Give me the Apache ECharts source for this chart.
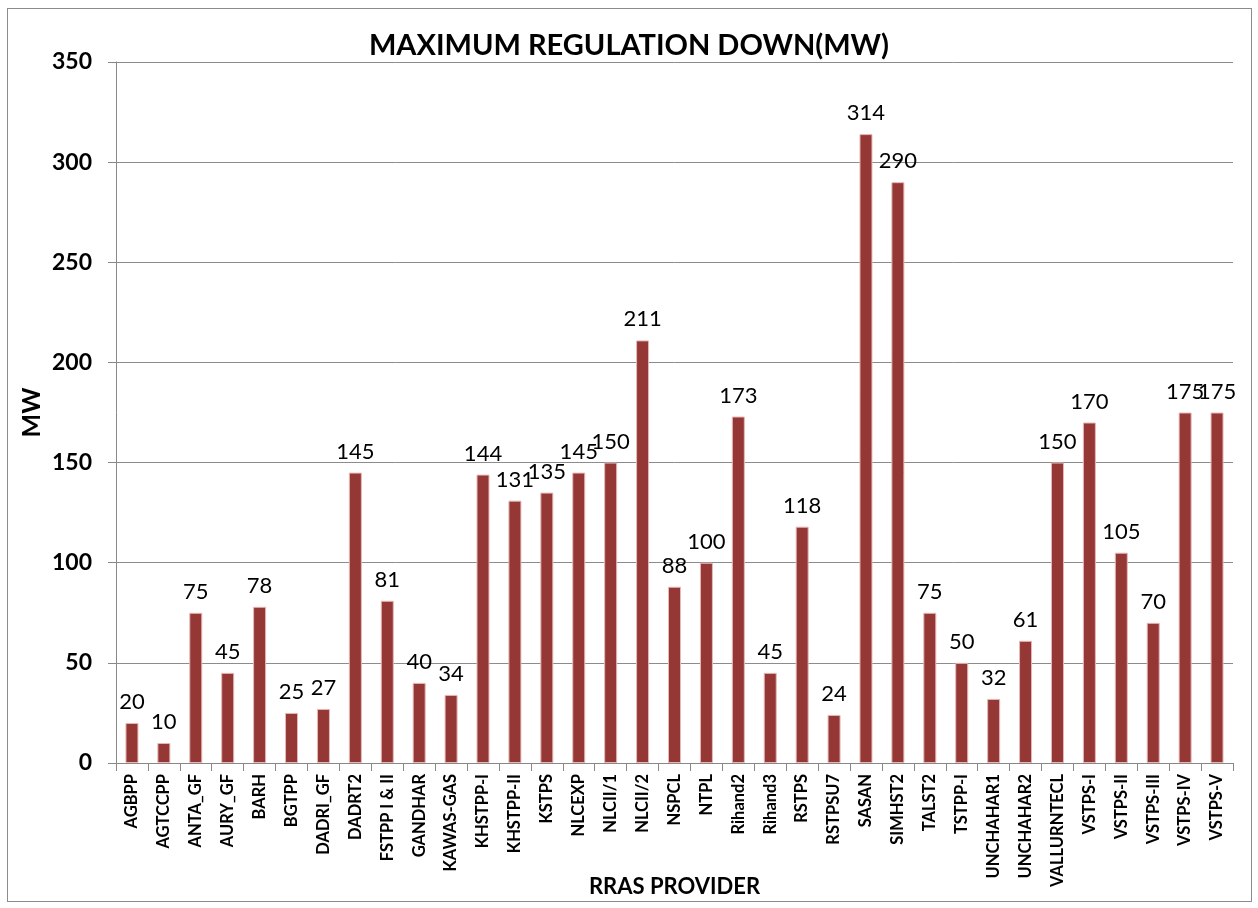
<!DOCTYPE html>
<html><head><meta charset="utf-8">
<script src="https://cdn.jsdelivr.net/npm/echarts@6/dist/echarts.min.js"></script>
<style>html,body{margin:0;padding:0;background:#fff}#c{width:1258px;height:908px}
#frame{position:absolute;left:7px;top:8px;width:1243px;height:892px;border:1px solid #8c8c8c;pointer-events:none}</style>
</head><body><div id="c"></div><div id="frame"></div>
<script>
const categories = ["AGBPP","AGTCCPP","ANTA_GF","AURY_GF","BARH","BGTPP","DADRI_GF","DADRT2","FSTPP I & II","GANDHAR","KAWAS-GAS","KHSTPP-I","KHSTPP-II","KSTPS","NLCEXP","NLCII/1","NLCII/2","NSPCL","NTPL","Rihand2","Rihand3","RSTPS","RSTPSU7","SASAN","SIMHST2","TALST2","TSTPP-I","UNCHAHAR1","UNCHAHAR2","VALLURNTECL","VSTPS-I","VSTPS-II","VSTPS-III","VSTPS-IV","VSTPS-V"];
const values = [20,10,75,45,78,25,27,145,81,40,34,144,131,135,145,150,211,88,100,173,45,118,24,314,290,75,50,32,61,150,170,105,70,175,175];
const titleText = "MAXIMUM REGULATION DOWN(MW)";
const yName = "MW";
const xName = "RRAS PROVIDER";
const chart = echarts.init(document.getElementById('c'));
const F = "Lato, 'Open Sans', sans-serif";
chart.setOption({
  animation:false,
  title:{text:titleText,left:624,top:26,textAlign:'center',textStyle:{fontFamily:F,fontWeight:'bold',fontSize:29,color:'#000'}},
  grid:{left:116,right:25,top:62,bottom:145,containLabel:false,outerBoundsMode:'none'},
  xAxis:{type:'category',data:categories,name:xName,nameLocation:'middle',nameGap:113,nameMoveOverlap:false,
    nameTextStyle:{fontFamily:F,fontWeight:'bold',fontSize:22,color:'#000'},
    axisLine:{lineStyle:{color:'#888',width:1}},
    axisTick:{show:true,length:8,alignWithLabel:false,lineStyle:{color:'#888'}},
    axisLabel:{rotate:90,interval:0,fontFamily:F,fontWeight:'bold',fontSize:16.5,color:'#000',margin:11}},
  yAxis:{type:'value',min:0,max:350,interval:50,name:yName,nameLocation:'middle',nameGap:72,nameRotate:90,nameMoveOverlap:false,
    nameTextStyle:{fontFamily:F,fontWeight:'bold',fontSize:25,color:'#000'},
    axisLine:{show:true,lineStyle:{color:'#888'}},
    axisTick:{show:true,length:8,lineStyle:{color:'#888'}},
    axisLabel:{fontFamily:F,fontWeight:'bold',fontSize:23,color:'#000',margin:24},
    splitLine:{lineStyle:{color:'#8c8c8c',width:1}}},
  series:[{type:'bar',data:values,barWidth:13,
    itemStyle:{color:'#953735',borderColor:'#e6b9b8',borderWidth:1},
    label:{show:true,position:'top',distance:10,fontFamily:F,fontSize:22,color:'#000'}}]
});
</script></body></html>
